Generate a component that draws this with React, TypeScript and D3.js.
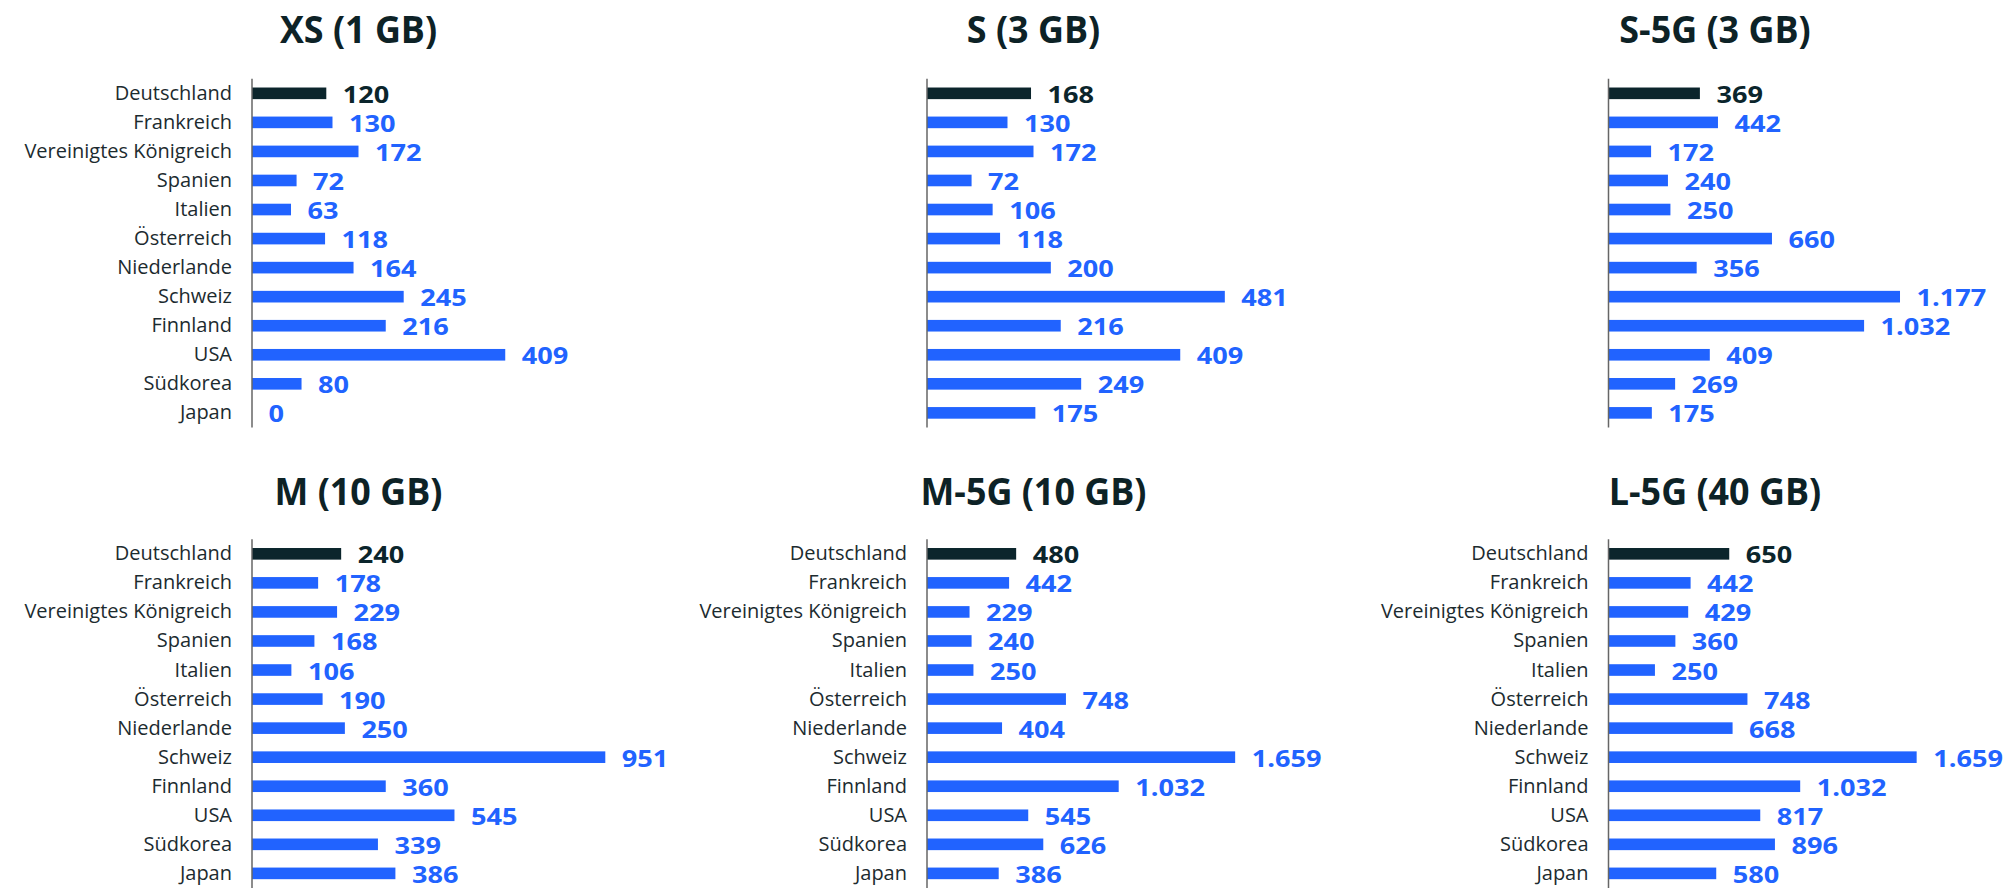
import React, { useEffect } from 'react';
import * as d3 from 'd3';

// Countries, top to bottom
const countries = [
  'Deutschland', 'Frankreich', 'Vereinigtes Königreich', 'Spanien', 'Italien',
  'Österreich', 'Niederlande', 'Schweiz', 'Finnland', 'USA', 'Südkorea', 'Japan',
];

const titles = ['XS (1 GB)', 'S (3 GB)', 'S-5G (3 GB)', 'M (10 GB)', 'M-5G (10 GB)', 'L-5G (40 GB)'];

// prices per tariff, same order as countries
const xsValues = [120, 130, 172, 72, 63, 118, 164, 245, 216, 409, 80, 0];
const sValues = [168, 130, 172, 72, 106, 118, 200, 481, 216, 409, 249, 175];
const s5gValues = [369, 442, 172, 240, 250, 660, 356, 1177, 1032, 409, 269, 175];
const mValues = [240, 178, 229, 168, 106, 190, 250, 951, 360, 545, 339, 386];
const m5gValues = [480, 442, 229, 240, 250, 748, 404, 1659, 1032, 545, 626, 386];
const l5gValues = [650, 442, 429, 360, 250, 748, 668, 1659, 1032, 817, 896, 580];

const seriesList = [xsValues, sValues, s5gValues, mValues, m5gValues, l5gValues];
const axisMax = [600, 600, 1500, 1000, 2000, 2000];

// panel grid: y-axis x position per column, band start per row
const colX = [252, 927, 1608.5];
const rowTop = [78.8, 539.3];
const titleBase = [43.3, 505];
const plotW = 371.5;
const step = 29.05;

const BLUE = '#2163ff';
const DARK = '#0b252c';
const TEXT = '#1c2b2f';
const FONT = '"Open Sans", "Noto Sans", sans-serif';

const fmt = (v: number) => d3.format(',')(v).replace(/,/g, '.');

function Panel({ idx }: { idx: number }) {
  const row = Math.floor(idx / 3);
  const axisX = colX[idx % 3];
  const showLabels = idx !== 1 && idx !== 2;
  const values = seriesList[idx];
  const top = rowTop[row];

  const y = d3.scaleBand<string>()
    .domain(countries)
    .range([top, top + step * countries.length])
    .paddingInner(0.6)
    .paddingOuter(0.3);
  const x = d3.scaleLinear().domain([0, axisMax[idx]]).range([axisX, axisX + plotW]);

  const bw = y.bandwidth();
  return (
    <g>
      <text
        transform={`translate(${axisX + 106.5},${titleBase[row]}) scale(0.97,1)`}
        textAnchor="middle" fontFamily={FONT} fontWeight={700} fontSize={37} fill="#0d2226">
        {titles[idx]}
      </text>
      {countries.map((c, i) => {
        const cy = (y(c) as number) + bw / 2;
        const col = i === 0 ? DARK : BLUE;
        return (
          <g key={c}>
            {showLabels && (
              <text x={axisX - 20} y={cy + 6.5}
                textAnchor="end" fontFamily={FONT} fontSize={20} fill={TEXT}>
                {c}
              </text>
            )}
            <rect x={x(0)} y={y(c)} width={x(values[i]) - x(0)} height={bw} fill={col} />
            <text
              transform={`translate(${x(values[i]) + 16.5},${cy + 9.5}) scale(1.13,1)`}
              fontFamily={FONT} fontWeight={700} fontSize={24} fill={col}>
              {fmt(values[i])}
            </text>
          </g>
        );
      })}
      <line x1={axisX} x2={axisX} y1={top} y2={top + step * countries.length}
        stroke="#666" strokeWidth={1.5} />
    </g>
  );
}

export default function App() {
  useEffect(() => {
    document.body.style.margin = '0';
  }, []);

  return (
    <svg width={2006} height={888} viewBox="0 0 2006 888" style={{ display: 'block', background: '#fff' }}>
      {titles.map((t, i) => <Panel key={t} idx={i} />)}
    </svg>
  );
}
